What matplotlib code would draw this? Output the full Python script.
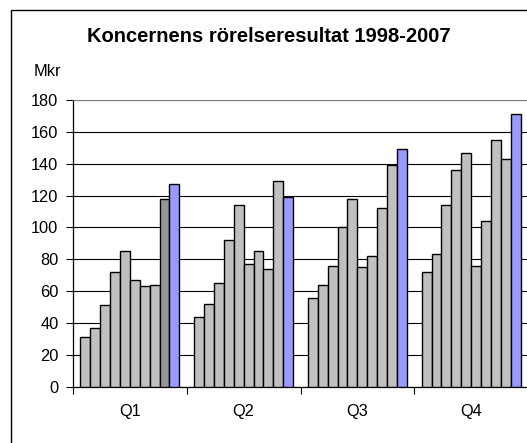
import numpy as np
import matplotlib.pyplot as plt
from matplotlib.patches import Rectangle

plt.rcParams['font.family'] = ['Liberation Sans', 'DejaVu Sans']

# data: operating profit (Mkr) per quarter, one value per year 1998-2007
years = list(range(1998, 2008))
quarters = ['Q1', 'Q2', 'Q3', 'Q4']
q1 = [31, 37, 51, 72, 85, 67, 63, 64, 118, 127]
q2 = [44, 52, 65, 92, 114, 77, 85, 74, 129, 119]
q3 = [56, 64, 76, 100, 118, 75, 82, 112, 139, 149]
q4 = [72, 83, 114, 136, 147, 76, 104, 155, 143, 171]
values = [q1, q2, q3, q4]

fig = plt.figure(figsize=(5.27, 4.43), dpi=100)
ax = fig.add_axes([73 / 527, 56.3 / 443, 455 / 527, 286.7 / 443])

n = len(years)
bw = 0.087
for gi, vals in enumerate(values):
    for i, v in enumerate(vals):
        x = gi + 0.5 + (i - (n - 1) / 2) * bw
        color = '#C0C0C0'
        if i == n - 1:
            color = '#9999FF'
        elif gi == 0 and i == n - 2:
            color = '#969696'
        ax.bar(x, v, width=bw, color=color, edgecolor='black', linewidth=1.0, zorder=3)

ax.set_xlim(0, 4)
ax.set_ylim(0, 180)
ax.set_yticks(range(0, 181, 20))
ax.set_xticks([0, 1, 2, 3, 4])
ax.set_xticklabels([])
ax.set_xticks([0.5, 1.5, 2.5, 3.5], minor=True)
ax.set_xticklabels(quarters, minor=True)
ax.tick_params(axis='x', which='minor', length=0, labelsize=11.8, pad=12.5)
ax.tick_params(axis='x', which='major', length=5, direction='out', width=0.8)
ax.tick_params(axis='y', length=5, direction='out', width=0.8, labelsize=11.8, pad=5.5)
ax.grid(axis='y', color='black', linewidth=0.8, zorder=0)

ax.spines['top'].set_color('#808080')
ax.spines['right'].set_visible(False)
ax.spines['left'].set_linewidth(0.9)
ax.spines['bottom'].set_linewidth(0.9)

fig.text(268.5 / 527, 1 - 37 / 443, 'Koncernens rörelseresultat 1998-2007',
         ha='center', va='center', fontsize=14.5, fontweight='bold')
fig.text(47 / 527, 1 - 71 / 443, 'Mkr', ha='center', va='center', fontsize=11.8)

# outer chart border, cut off at the right and bottom like the original
fig.patches.append(Rectangle((11 / 527, -0.05), 1, 1 - 10 / 443 + 0.05, transform=fig.transFigure,
                             fill=False, edgecolor='black', linewidth=1.0))

fig.savefig('out.png', dpi=100)
